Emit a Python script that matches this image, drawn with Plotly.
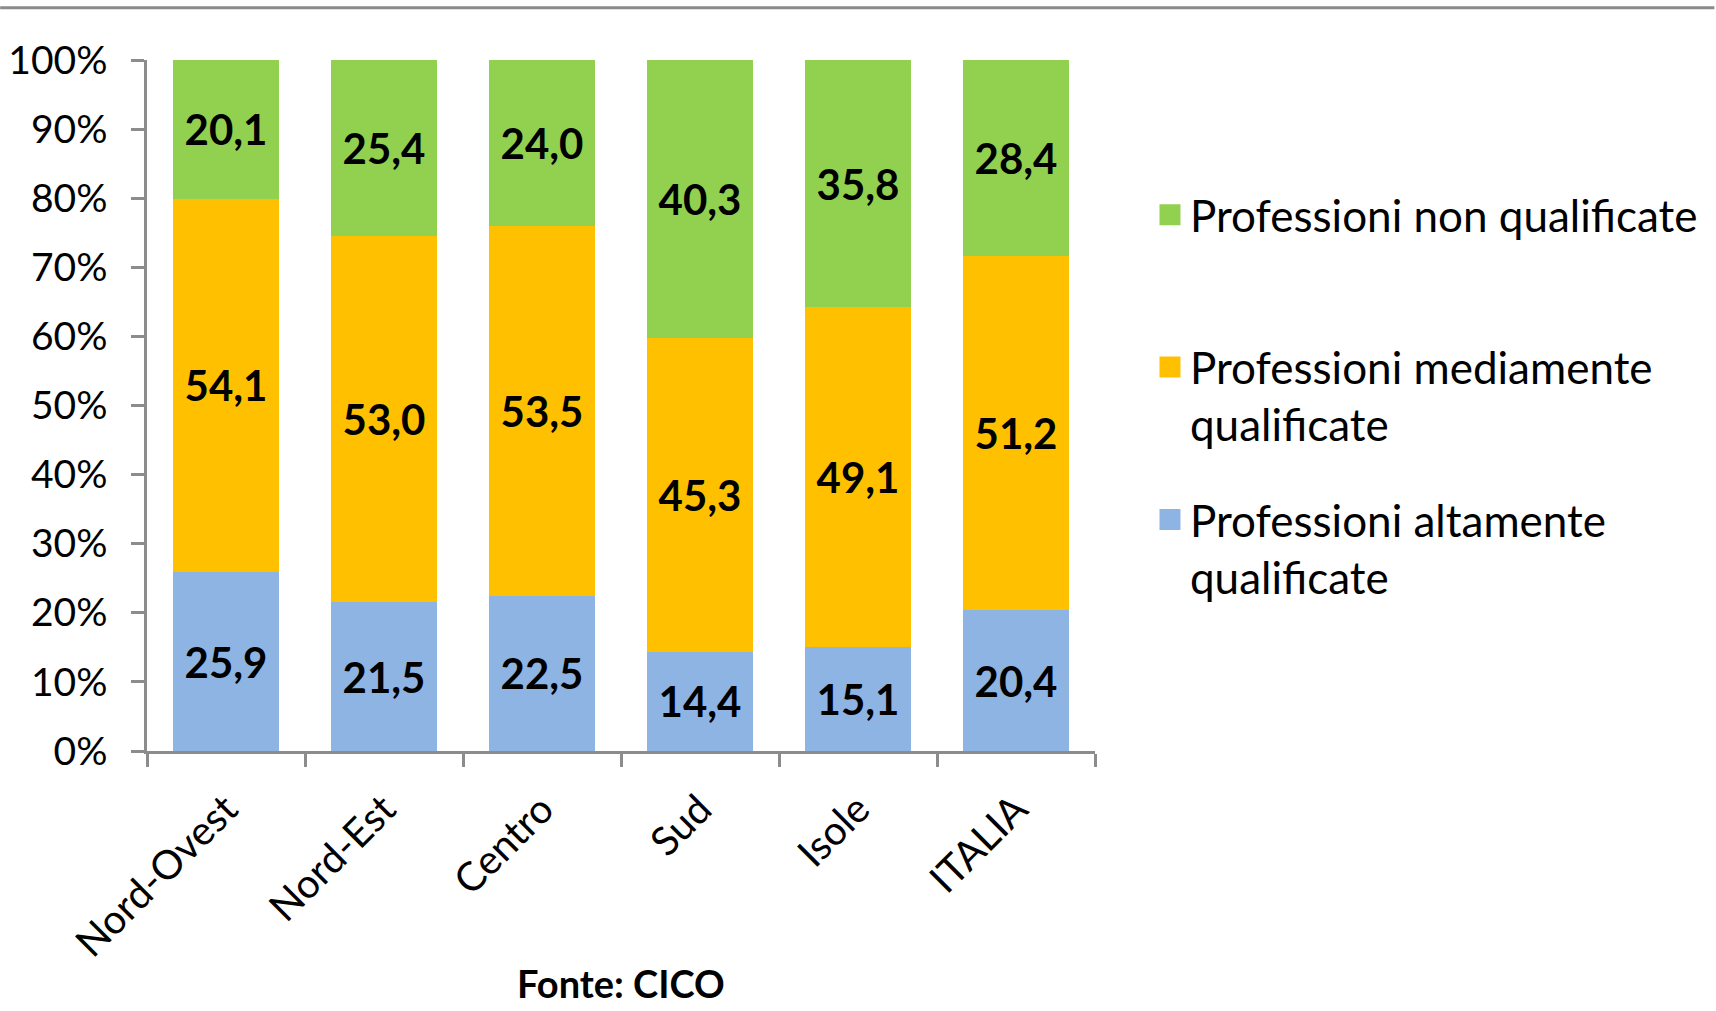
import plotly.graph_objects as go

categories = ["Nord-Ovest", "Nord-Est", "Centro", "Sud", "Isole", "ITALIA"]
altamente = [25.9, 21.5, 22.5, 14.4, 15.1, 20.4]
mediamente = [54.1, 53.0, 53.5, 45.3, 49.1, 51.2]
non_qualificate = [20.1, 25.4, 24.0, 40.3, 35.8, 28.4]

# stacking order bottom -> top
series = [
    ("Professioni altamente<br>qualificate", altamente, "#8EB4E3"),
    ("Professioni mediamente<br>qualificate", mediamente, "#FFC000"),
    ("Professioni non qualificate<br> ", non_qualificate, "#92D050"),
]

def fmt(v):
    return f"{v:.1f}".replace(".", ",")

fig = go.Figure()
for name, vals, color in series:
    fig.add_trace(go.Bar(
        x=categories, y=vals, name=name,
        marker=dict(color=color, line=dict(width=0)),
        text=[fmt(v) for v in vals],
        textposition="inside", insidetextanchor="middle",
        textfont=dict(family="Lato", size=42, color="black", weight="bold"),
        constraintext="none",
        showlegend=False,
        hoverinfo="skip",
    ))

# legend entries (top -> bottom), drawn on a hidden overlay axis (off-range)
for i, (name, vals, color) in enumerate(reversed(series)):
    fig.add_trace(go.Scatter(
        x=[categories[0]], y=[0], name=name, mode="markers",
        marker=dict(symbol="square", size=16, color=color,
                    line=dict(width=5, color=color)),
        xaxis="x2", yaxis="y2",
        legendgroup=f"g{i}", legendrank=i + 1,
        showlegend=True, hoverinfo="skip",
    ))

axis_color = "#8c8c8c"
fig.update_layout(
    width=1716, height=1011,
    margin=dict(l=147, r=621, t=60, b=260, autoexpand=False),
    barmode="stack", barnorm="percent", bargap=0.33,
    plot_bgcolor="white", paper_bgcolor="white",
    font=dict(family="Lato", color="black", size=38),
    xaxis=dict(
        showline=True, linecolor=axis_color, linewidth=2.5,
        ticks="outside", ticklen=13, tickwidth=2.5, tickcolor=axis_color,
        tickson="boundaries", tickangle=-45,
        tickfont=dict(family="Lato", size=40, color="black"),
        ticklabelstandoff=16,
    ),
    yaxis=dict(
        range=[0, 100], dtick=10, ticksuffix="%",
        showline=True, linecolor=axis_color, linewidth=2.5,
        ticks="outside", ticklen=13, tickwidth=2.5, tickcolor=axis_color,
        showgrid=False, zeroline=False,
        tickfont=dict(family="Lato", size=39, color="black"),
        ticklabelstandoff=16,
    ),
    xaxis2=dict(overlaying="x", visible=False, type="category"),
    yaxis2=dict(overlaying="y", visible=False, range=[1000, 2000]),
    legend=dict(
        x=1.058, xanchor="left", y=0.827, yanchor="top",
        traceorder="grouped", tracegroupgap=35,
        valign="top",
        font=dict(family="Lato", size=44, color="black"),
        bgcolor="rgba(0,0,0,0)",
    ),
    showlegend=True,
)

fig.add_annotation(
    text="<b>Fonte: CICO</b>", xref="paper", yref="paper",
    x=0.5, y=(751 - 983) / 691, xanchor="center", yanchor="middle",
    showarrow=False, font=dict(family="Lato", size=38, color="black"),
)

fig.add_shape(
    type="line", xref="paper", yref="paper",
    x0=-147 / 949, x1=(1716 - 147) / 949,
    y0=(751 - 7.7) / 691, y1=(751 - 7.7) / 691,
    line=dict(color="#8a8a8a", width=3),
)

fig.write_html(
    "out.html",
    config={"displayModeBar": False},
    post_script="document.body.style.margin='0';document.body.style.padding='0';",
)
